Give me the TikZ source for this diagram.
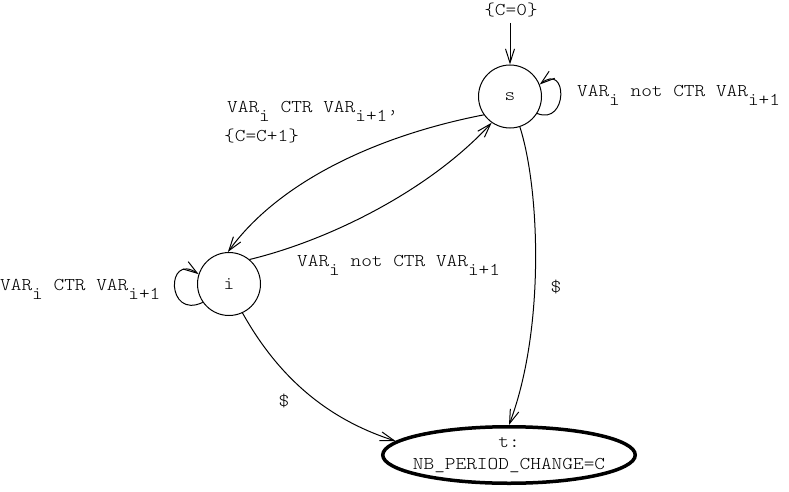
\documentclass[tikz,border=0pt]{standalone}
\usepackage{fontspec}
\usetikzlibrary{arrows.meta,shapes.geometric}
\newfontfamily\monofont[FakeStretch=1.13]{lmmonolt10-regular.otf}
\newcommand\sbx[1]{\raisebox{-9pt}{#1}}
\tikzset{
  txt/.style={font=\monofont\fontsize{18}{22}\selectfont, inner sep=0pt},
  lbl/.style={txt, anchor=base west},
  state/.style={circle, draw, line width=1pt, minimum size=63pt, inner sep=0pt, txt},
  final/.style={ellipse, draw, line width=3.5pt, minimum width=252.5pt, minimum height=56.5pt, inner sep=0pt},
  edge/.style={line width=1pt, -{Straight Barb[length=14pt,width=9pt,line width=1pt]}}
}
\begin{document}
\begin{tikzpicture}[x=1pt,y=-1pt]
\useasboundingbox (0,0) rectangle (789,492);
% states
\node[state] (s) at (510,96.5) {s};
\node[state] (i) at (229,284) {i};
\node[final] (t) at (509,455) {};
\node[txt, align=center] (tl) at (t.center) {t:\\NB\_PERIOD\_CHANGE=C};
% initial
\node[txt] (c0) at (511,10) {\{C=0\}};
\coordinate (init) at (510,23);
\draw[edge] (init) -- (s.north);
% self loops
\draw[edge] (s.-32) .. controls (568,126) and (568,62) .. (s.22);
\draw[edge] (i.215) .. controls (166,320) and (166,252) .. (i.162);
% transitions
\draw[edge] (s.215) .. controls (380,135) and (280,180) .. (i.92);
\draw[edge] (i.50) .. controls (330,240) and (430,190) .. (s.235);
\draw[edge] (s.288) .. controls (540,190) and (545,330) .. (t.north);
\draw[edge] (i.295) .. controls (280,380) and (330,420) .. (t.173);
% labels
\node[lbl] (ls) at (577,97) {VAR\sbx{i} not CTR VAR\sbx{i+1}};
\node[lbl] (lsi1) at (227,113) {VAR\sbx{i} CTR VAR\sbx{i+1’}};
\node[lbl] (lsi2) at (224,142) {\{C=C+1\}};
\node[lbl] (lis) at (297,266) {VAR\sbx{i} not CTR VAR\sbx{i+1}};
\node[lbl] (li) at (0,290) {VAR\sbx{i} CTR VAR\sbx{i+1}};
\node[txt] (dst) at (556,287) {\$};
\node[txt] (dit) at (284,401) {\$};
\end{tikzpicture}
\end{document}
